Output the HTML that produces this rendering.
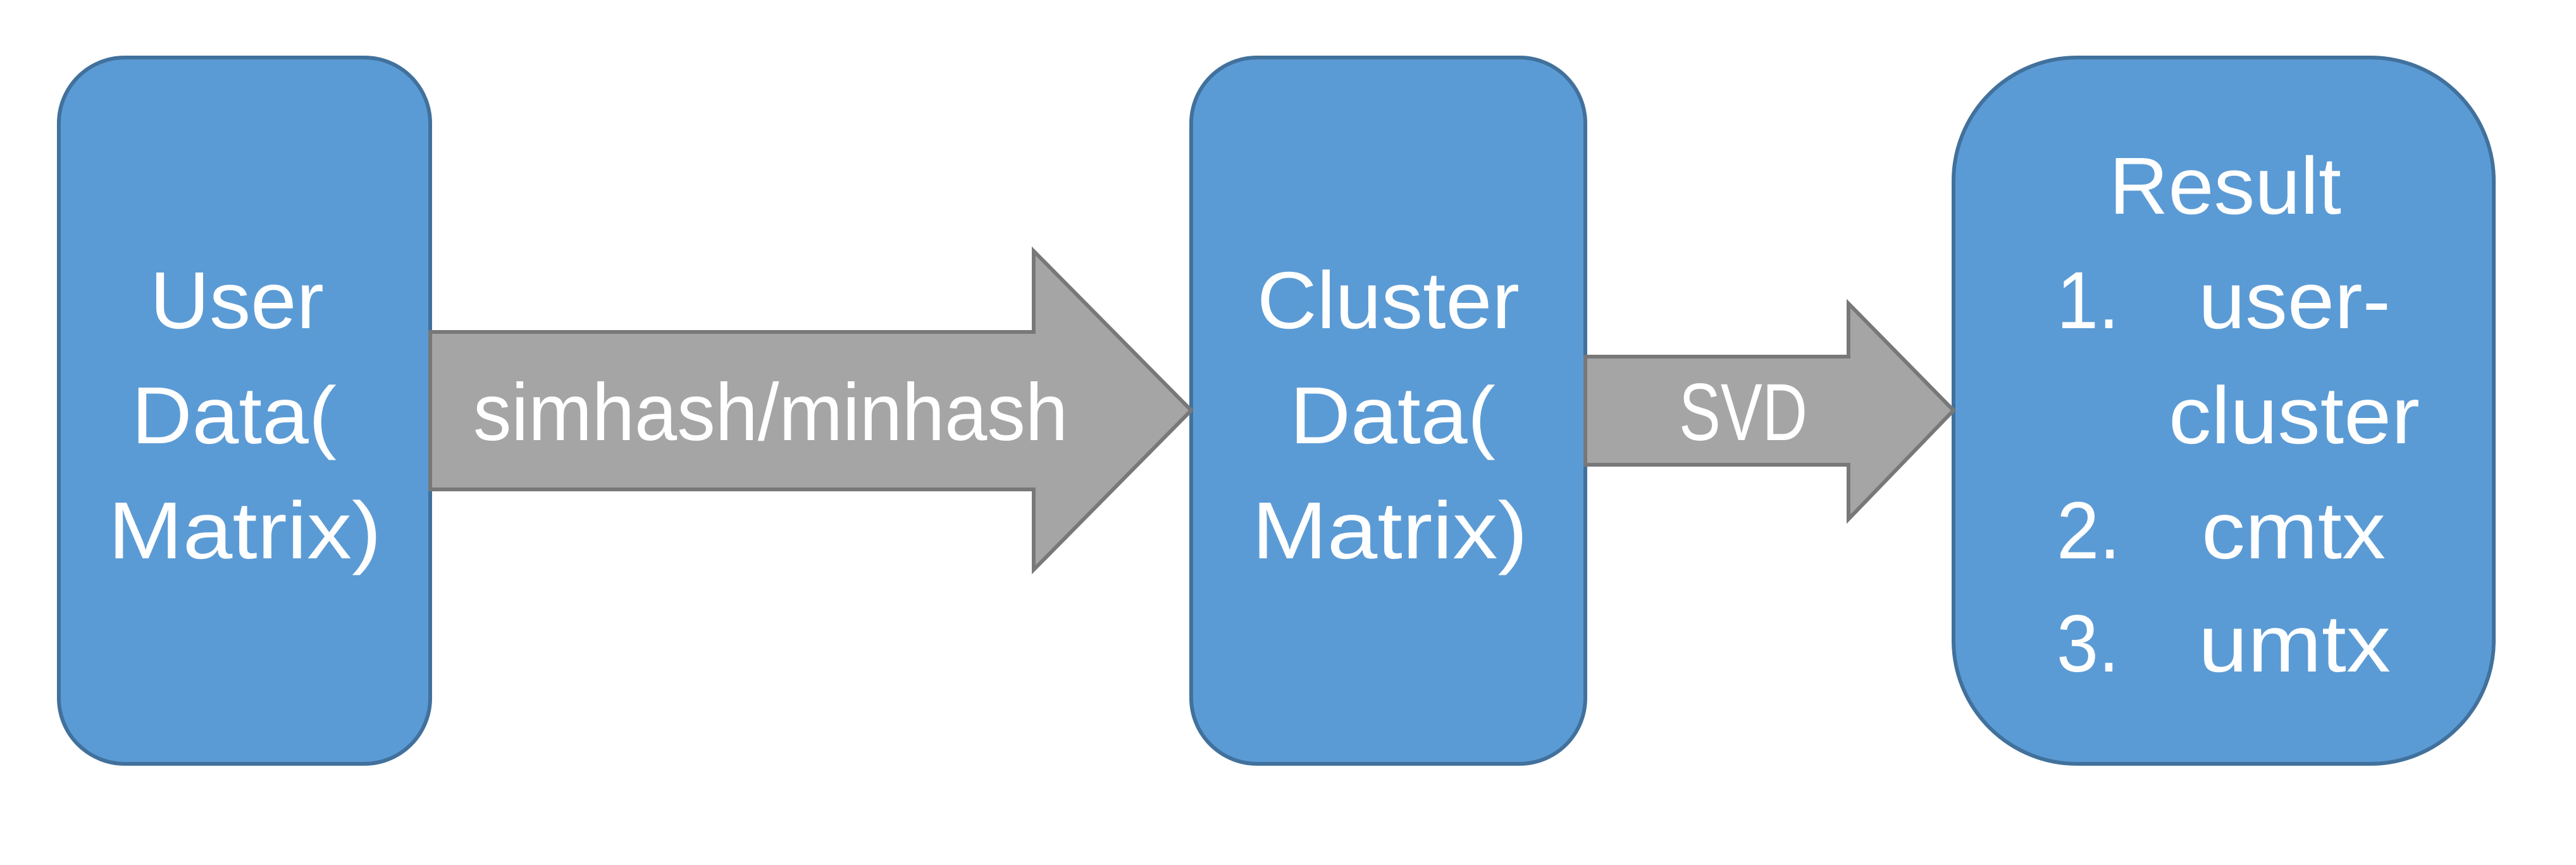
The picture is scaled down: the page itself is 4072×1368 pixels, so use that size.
<!DOCTYPE html>
<html><head><meta charset="utf-8"><style>
html,body{margin:0;padding:0;background:#fff;width:4072px;height:1368px;overflow:hidden}
svg{display:block}
text{font-family:"Liberation Sans",sans-serif;font-size:128px;fill:#fff}
</style></head><body>
<svg width="4072" height="1368" viewBox="0 0 4072 1368" xmlns="http://www.w3.org/2000/svg">
<g fill="#5B9BD5" stroke="#41719C" stroke-width="6">
<rect x="93" y="91" width="587" height="1117" rx="104" ry="104"/>
<rect x="1883" y="91" width="623" height="1117" rx="104" ry="104"/>
<rect x="3088" y="91" width="854" height="1117" rx="195" ry="195"/>
</g>
<g fill="#A5A5A5" stroke="#787878" stroke-width="6">
<polygon points="680,525 1634,525 1634,397 1883,649 1634,901 1634,774 680,774"/>
<polygon points="2506,564 2922,564 2922,480 3088,649 2922,821 2922,735 2506,735"/>
</g>
<g lengthAdjust="spacingAndGlyphs">
<text x="237" y="519" textLength="275" lengthAdjust="spacingAndGlyphs">User</text>
<text x="208" y="701" textLength="324" lengthAdjust="spacingAndGlyphs">Data(</text>
<text x="171" y="883" textLength="432" lengthAdjust="spacingAndGlyphs">Matrix)</text>
<text x="748" y="696" textLength="940" lengthAdjust="spacingAndGlyphs">simhash/minhash</text>
<text x="1987" y="519" textLength="415" lengthAdjust="spacingAndGlyphs">Cluster</text>
<text x="2039" y="701" textLength="325" lengthAdjust="spacingAndGlyphs">Data(</text>
<text x="1979" y="883" textLength="436" lengthAdjust="spacingAndGlyphs">Matrix)</text>
<text x="2654" y="696" textLength="203" lengthAdjust="spacingAndGlyphs">SVD</text>
<text x="3334" y="338" textLength="367" lengthAdjust="spacingAndGlyphs">Result</text>
<text x="3251" y="519" textLength="99" lengthAdjust="spacingAndGlyphs">1.</text>
<text x="3475" y="519" textLength="304" lengthAdjust="spacingAndGlyphs">user-</text>
<text x="3428" y="701" textLength="397" lengthAdjust="spacingAndGlyphs">cluster</text>
<text x="3251" y="883" textLength="101" lengthAdjust="spacingAndGlyphs">2.</text>
<text x="3480" y="883" textLength="291" lengthAdjust="spacingAndGlyphs">cmtx</text>
<text x="3251" y="1062" textLength="99" lengthAdjust="spacingAndGlyphs">3.</text>
<text x="3475" y="1062" textLength="304" lengthAdjust="spacingAndGlyphs">umtx</text>
</g>
</svg>
</body></html>
